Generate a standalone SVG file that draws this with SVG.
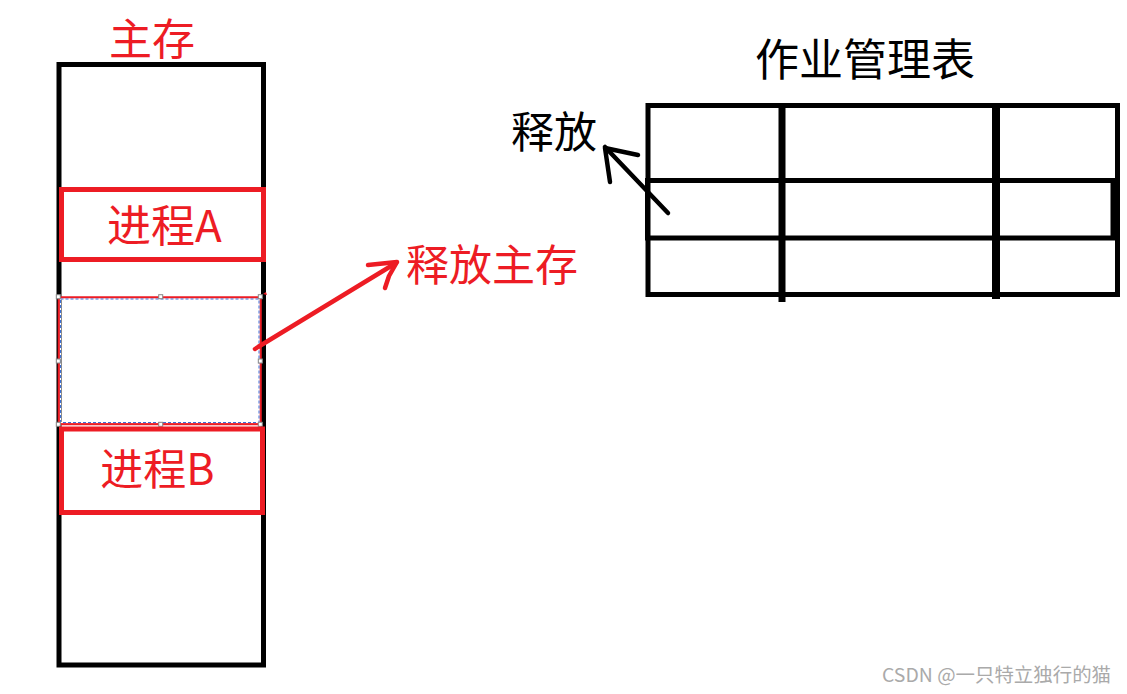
<svg xmlns="http://www.w3.org/2000/svg" width="1127" height="694" viewBox="0 0 1127 694">
<style>
.cjk{font-family:"Noto Sans CJK SC","Microsoft YaHei",sans-serif;}
.red{fill:#ED1C24;}
.blk{fill:#000;}
.box{fill:none;stroke:#000;stroke-width:5;}
.rbox{fill:none;stroke:#ED1C24;stroke-width:5;}
.h{fill:#fff;stroke:#888;stroke-width:1;}
.arrowR{fill:none;stroke:#ED1C24;stroke-width:4.5;stroke-linecap:round;stroke-linejoin:round;}
.arrowK{fill:none;stroke:#000;stroke-width:4.5;stroke-linecap:round;stroke-linejoin:round;}
</style>
<rect width="1127" height="694" fill="#fff"/>
<g id="memory">
  <rect class="box" x="59" y="64.5" width="204.5" height="600.5"/>
  <text class="cjk red" x="152" y="55" font-size="43" text-anchor="middle">主存</text>
</g>
<g id="processA">
  <rect class="rbox" x="61.5" y="189.5" width="202" height="70"/>
  <text class="cjk red" x="164.5" y="242" font-size="44" text-anchor="middle">进程A</text>
</g>
<g id="freed">
  <rect x="59" y="297.5" width="201.5" height="126.5" fill="none" stroke="#ED1C24" stroke-width="2.5"/>
  <rect x="60.5" y="299" width="198.5" height="123.5" fill="none" stroke="#fff" stroke-width="1.2"/>
  <rect x="60.5" y="299" width="198.5" height="123.5" fill="none" stroke="#3a6fd8" stroke-width="1" stroke-dasharray="3,2"/>
  <rect class="h" x="56.3" y="294.7" width="4" height="4"/>
  <rect class="h" x="158.7" y="294.7" width="4" height="4"/>
  <rect class="h" x="258.3" y="294.7" width="4" height="4"/>
  <rect class="h" x="56.3" y="359" width="4" height="4"/>
  <rect class="h" x="258.3" y="359" width="4" height="4"/>
  <rect class="h" x="56.3" y="422.3" width="4" height="4"/>
  <rect class="h" x="158.7" y="422.3" width="4" height="4"/>
  <rect class="h" x="258.3" y="422.3" width="4" height="4"/>
</g>
<g id="processB">
  <rect class="rbox" x="61.5" y="429" width="201" height="83.5"/>
  <text class="cjk red" x="157.5" y="485" font-size="43" text-anchor="middle">进程B</text>
</g>
<g id="releaseMem">
  <text class="cjk red" x="406" y="281" font-size="43">释放主存</text>
</g>
<g id="jobTableTitle">
  <text class="cjk blk" x="865" y="76" font-size="44" text-anchor="middle">作业管理表</text>
</g>
<g id="jobTable">
  <rect class="box" x="648" y="105.5" width="469.5" height="189"/>
  <rect class="box" x="647.5" y="180.5" width="465.5" height="57.5"/>
  <line x1="782" y1="103" x2="782" y2="302" stroke="#000" stroke-width="7"/>
  <line x1="996" y1="103" x2="996" y2="299" stroke="#000" stroke-width="8"/>
</g>
<g id="release">
  <text class="cjk blk" x="511" y="148" font-size="43">释放</text>
</g>
<g id="connectors">
  <path class="arrowR" d="M255,349 L258,347 L396,263"/>
  <path class="arrowR" d="M368,265 L397,262 L389,276 L385,288"/>
  <path d="M263,294 l3,-2 l1,3 z" fill="#ED1C24"/>
  <path class="arrowK" d="M668,213 L605,147"/>
  <path class="arrowK" d="M638,155 L605,148 L610,182"/>
</g>
<text x="882" y="682" font-family="'Noto Sans CJK SC','Microsoft YaHei',sans-serif" font-size="19" fill="#aaa" textLength="229" lengthAdjust="spacingAndGlyphs">CSDN @一只特立独行的猫</text>
</svg>
